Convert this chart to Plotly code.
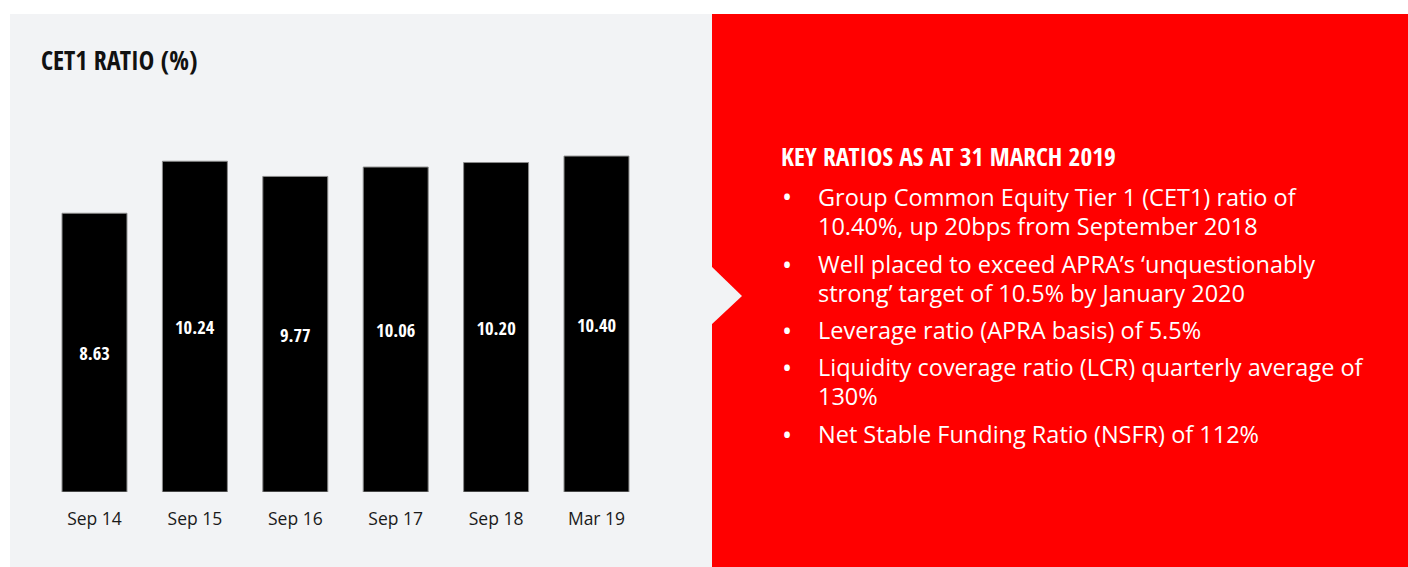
import plotly.graph_objects as go

categories = ["Sep 14", "Sep 15", "Sep 16", "Sep 17", "Sep 18", "Mar 19"]
cet1_values = [8.63, 10.24, 9.77, 10.06, 10.20, 10.40]
value_labels = ["8.63", "10.24", "9.77", "10.06", "10.20", "10.40"]

chart_title = "CET1 RATIO (%)"
panel_title = "KEY RATIOS AS AT 31 MARCH 2019"
bullet_lines = [
    ("•", "Group Common Equity Tier 1 (CET1) ratio of"),
    ("", "10.40%, up 20bps from September 2018"),
    ("•", "Well placed to exceed APRA’s ‘unquestionably"),
    ("", "strong’ target of 10.5% by January 2020"),
    ("•", "Leverage ratio (APRA basis) of 5.5%"),
    ("•", "Liquidity coverage ratio (LCR) quarterly average of"),
    ("", "130%"),
    ("•", "Net Stable Funding Ratio (NSFR) of 112%"),
]
line_y_px = [197, 226, 264, 293, 330, 367, 396, 434]

W, H = 1408, 567
GRAY = "#f2f3f5"
RED = "#ff0000"
COND = "Open Sans Condensed, Roboto Condensed, DejaVu Sans Condensed, sans-serif"
BODY = "Open Sans, Noto Sans, sans-serif"

def px(x):
    return x / W

def py(y):
    return 1 - y / H

fig = go.Figure()
fig.add_trace(go.Bar(
    x=categories, y=cet1_values, text=value_labels,
    textposition="inside", insidetextanchor="middle",
    textfont=dict(family=COND, size=18.5, color="white", weight=700),
    marker=dict(color="black", line=dict(color="#8a8a8a", width=1)),
    textangle=0, hoverinfo="x+y",
))

shapes = [
    dict(type="rect", xref="paper", yref="paper", x0=px(10), x1=px(713), y0=py(567), y1=py(14),
         fillcolor=GRAY, line=dict(width=0), layer="below"),
    dict(type="rect", xref="paper", yref="paper", x0=px(712), x1=px(1408), y0=py(567), y1=py(14),
         fillcolor=RED, line=dict(width=0), layer="below"),
    dict(type="path", xref="paper", yref="paper",
         path=f"M {px(711)} {py(266)} L {px(742)} {py(296)} L {px(711)} {py(325)} Z",
         fillcolor=GRAY, line=dict(width=0), layer="below"),
]

annotations = [
    dict(text=chart_title, xref="paper", yref="paper", x=px(39), y=py(60),
         xanchor="left", yanchor="middle", showarrow=False,
         font=dict(family=COND, size=26, color="#111111", weight=700)),
    dict(text=panel_title, xref="paper", yref="paper", x=px(779), y=py(156),
         xanchor="left", yanchor="middle", showarrow=False,
         font=dict(family=COND, size=25.5, color="white", weight=700)),
]
for (b, t), y in zip(bullet_lines, line_y_px):
    if b:
        annotations.append(dict(text=b, xref="paper", yref="paper", x=px(787), y=py(y),
                                xanchor="center", yanchor="middle", showarrow=False,
                                font=dict(family=BODY, size=27, color="white")))
    annotations.append(dict(text=t, xref="paper", yref="paper", x=px(816), y=py(y),
                            xanchor="left", yanchor="middle", showarrow=False,
                            font=dict(family=BODY, size=23.5, color="white")))

fig.update_layout(
    width=W, height=H,
    margin=dict(l=0, r=0, t=0, b=0),
    paper_bgcolor="white", plot_bgcolor=GRAY,
    showlegend=False, bargap=0.353,
    shapes=shapes, annotations=annotations,
    xaxis=dict(domain=[px(44.3), px(646.7)], range=[-0.5, 5.5], showgrid=False,
               showline=False, zeroline=False, ticks="outside", ticklen=11,
               tickcolor="rgba(0,0,0,0)",
               tickfont=dict(family=BODY, size=17.5, color="#1a1a1a")),
    yaxis=dict(domain=[py(492), py(136.7)], range=[0, 11], visible=False),
)

fig.write_html("out.html", config={"displayModeBar": False},
               post_script="document.body.style.margin='0';")
